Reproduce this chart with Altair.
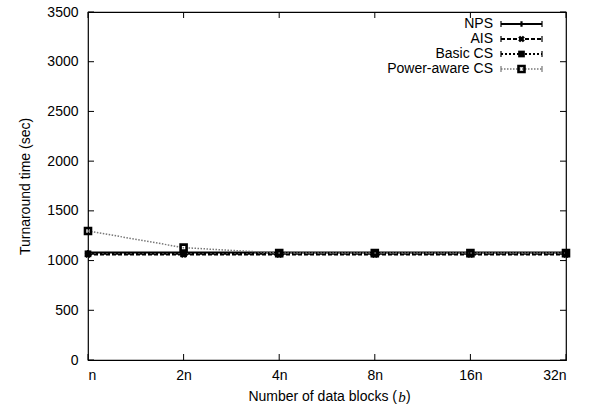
import altair as alt
import pandas as pd

x_labels = ["n", "2n", "4n", "8n", "16n", "32n"]
series_names = ["NPS", "AIS", "Basic CS", "Power-aware CS"]
nps = [1080, 1080, 1080, 1080, 1080, 1080]
ais = [1060, 1060, 1060, 1060, 1060, 1060]
basic_cs = [1068, 1068, 1068, 1068, 1068, 1068]
power_cs = [1298, 1130, 1075, 1075, 1075, 1075]
y_ticks = [0, 500, 1000, 1500, 2000, 2500, 3000, 3500]

W, H = 478, 348
FONT = "Liberation Sans"

rows = []
for name, vals in zip(series_names, [nps, ais, basic_cs, power_cs]):
    for i, v in enumerate(vals):
        rows.append({"series": name, "idx": i, "label": x_labels[i], "value": v})
df = pd.DataFrame(rows)

styles = {
    "NPS": dict(color="black", width=2, dash=[1, 0], shape="cross", filled=True, size=30, angle=0, sw=1.5),
    "AIS": dict(color="black", width=2, dash=[4, 2], shape="cross", filled=True, size=45, angle=45, sw=1.5),
    "Basic CS": dict(color="black", width=2, dash=[2, 2], shape="square", filled=True, size=45, angle=0, sw=1.5),
    "Power-aware CS": dict(color="#777777", width=1.5, dash=[1.5, 1.5], shape="square", filled=False, size=36, angle=0, sw=2.6),
}

xscale = alt.Scale(domain=[0, 5], nice=False, zero=False)
yscale = alt.Scale(domain=[0, 3500], nice=False)
label_expr = "[" + ",".join("'" + l + "'" for l in x_labels) + "][datum.value]"

base = alt.Chart(df)
layers = []
first = True
for name in series_names:
    s = styles[name]
    sub = base.transform_filter(alt.datum.series == name)
    if first:
        xenc = alt.X("idx:Q", scale=xscale, axis=alt.Axis(values=list(range(6)), labelExpr=label_expr,
                                                         ticks=False, domain=False, grid=False, title=None,
                                                         labelPadding=8, labelFont=FONT, labelFontSize=14,
                                                         labelColor="black"))
        yenc = alt.Y("value:Q", scale=yscale, axis=alt.Axis(values=y_ticks, format="d", ticks=False, domain=False,
                                                           grid=False,
                                                           title="Turnaround time (sec)", titleFont=FONT,
                                                           titleFontSize=14, titleFontWeight="normal",
                                                           titlePadding=14, labelPadding=10, labelFont=FONT,
                                                           labelFontSize=14, labelColor="black", titleColor="black"))
        first = False
    else:
        xenc = alt.X("idx:Q", scale=xscale)
        yenc = alt.Y("value:Q", scale=yscale)
    line = sub.mark_line(color=s["color"], strokeWidth=s["width"], strokeDash=s["dash"]).encode(x=xenc, y=yenc)
    pt = sub.mark_point(shape=s["shape"], filled=s["filled"], size=s["size"], angle=s["angle"],
                        color="black", strokeWidth=s["sw"], opacity=1).encode(x="idx:Q", y="value:Q")
    layers += [line, pt]

# inward ticks
ytick_df = pd.DataFrame({"v": y_ticks})
xtick_df = pd.DataFrame({"i": list(range(6))})
tick_len = 6
layers.append(alt.Chart(ytick_df).mark_rule(color="black").encode(y=alt.Y("v:Q", scale=yscale), x=alt.value(0), x2=alt.value(tick_len)))
layers.append(alt.Chart(ytick_df).mark_rule(color="black").encode(y=alt.Y("v:Q", scale=yscale), x=alt.value(W - tick_len), x2=alt.value(W)))
layers.append(alt.Chart(xtick_df).mark_rule(color="black").encode(x=alt.X("i:Q", scale=xscale), y=alt.value(H), y2=alt.value(H - tick_len)))
layers.append(alt.Chart(xtick_df).mark_rule(color="black").encode(x=alt.X("i:Q", scale=xscale), y=alt.value(0), y2=alt.value(tick_len)))

# legend
leg_df = pd.DataFrame({"series": series_names})
lx_text, lx0, lx1 = 405, 413, 454
for k, name in enumerate(series_names):
    s = styles[name]
    ly = 12 + 15 * k
    sub = alt.Chart(leg_df).transform_filter(alt.datum.series == name)
    layers.append(sub.mark_text(align="right", baseline="middle", font=FONT, fontSize=14, color="black")
                  .encode(text="series:N", x=alt.value(lx_text), y=alt.value(ly)))
    layers.append(sub.mark_rule(color=s["color"], strokeWidth=s["width"], strokeDash=s["dash"])
                  .encode(x=alt.value(lx0), x2=alt.value(lx1), y=alt.value(ly)))
    for cx in (lx0, lx1):
        layers.append(sub.mark_rule(color=s["color"], strokeWidth=1.2)
                      .encode(x=alt.value(cx), y=alt.value(ly - 3), y2=alt.value(ly + 3)))
    layers.append(sub.mark_point(shape=s["shape"], filled=s["filled"], size=s["size"], angle=s["angle"],
                                 color="black", strokeWidth=s["sw"], opacity=1)
                  .encode(x=alt.value((lx0 + lx1) / 2), y=alt.value(ly)))

# x title with italic b
title_df = pd.DataFrame({"t": ["Number of data blocks (", "b", ")"]})
ty = 385
layers.append(alt.Chart(title_df).transform_filter(alt.datum.t == "Number of data blocks (")
              .mark_text(align="right", baseline="middle", font=FONT, fontSize=14, color="black")
              .encode(text="t:N", x=alt.value(309), y=alt.value(ty)))
layers.append(alt.Chart(title_df).transform_filter(alt.datum.t == "b")
              .mark_text(align="center", baseline="middle", font="Liberation Serif", fontStyle="italic",
                         fontSize=15, color="black")
              .encode(text="t:N", x=alt.value(314), y=alt.value(ty)))
layers.append(alt.Chart(title_df).transform_filter(alt.datum.t == ")")
              .mark_text(align="left", baseline="middle", font=FONT, fontSize=14, color="black")
              .encode(text="t:N", x=alt.value(318), y=alt.value(ty)))

chart = alt.layer(*layers).properties(
    width=W, height=H,
    autosize=alt.AutoSizeParams(type="none"),
    padding={"left": 88, "top": 12, "right": 24, "bottom": 49},
    background="white",
).configure_view(stroke="black", strokeWidth=1.2)

chart.save("out.html", embed_options={"renderer": "svg", "actions": False})
